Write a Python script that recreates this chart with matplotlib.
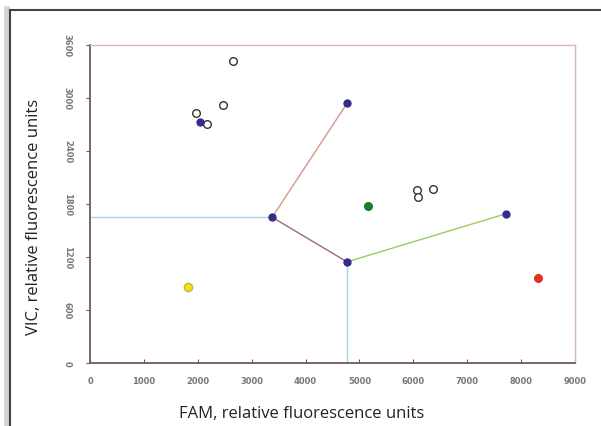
import matplotlib
matplotlib.use("Agg")
import matplotlib.pyplot as plt
from matplotlib.lines import Line2D

# unknown samples (open circles)
unk_x = [2650, 2470, 1970, 2170, 6070, 6080, 6360]
unk_y = [3420, 2920, 2830, 2700, 1960, 1880, 1970]

# cluster centres (blue)
cen_x = [2040, 3380, 4770, 4770, 7720]
cen_y = [2730, 1650, 2940, 1145, 1690]

# controls
green_pt = (5160, 1780)
red_pt = (8310, 965)
yellow_pt = (1820, 860)

# boundary segments: (x0, y0, x1, y1)
cyan_h = (0, 1650, 3380, 1650)
cyan_v = (4770, 1145, 4770, 0)
brown = (3380, 1650, 4770, 2940)
purple = (3380, 1650, 4770, 1145)
green_seg = (4770, 1145, 7720, 1690)

xticks = list(range(0, 9001, 1000))
yticks = list(range(0, 3601, 600))

fig = plt.figure(figsize=(6.01, 4.27), dpi=100)
ax = fig.add_axes([0.1498, 0.1475, 0.8069, 0.7448])

ax.plot(cyan_h[0::2], cyan_h[1::2], color="#a8d8e8", lw=1.0)
ax.plot(cyan_v[0::2], cyan_v[1::2], color="#a8d8e8", lw=1.0)
ax.plot(brown[0::2], brown[1::2], color="#d09a88", lw=1.0)
ax.plot(purple[0::2], purple[1::2], color="#9a6a84", lw=1.0)
ax.plot(green_seg[0::2], green_seg[1::2], color="#9ccc60", lw=1.0)

ax.plot(unk_x, unk_y, "o", ms=5.5, mfc="white", mec="#333333", mew=1.0)
ax.plot(cen_x, cen_y, "o", ms=5, color="#332c8c")
ax.plot(*green_pt, "o", ms=5.5, color="#1c7a2c")
ax.plot(*red_pt, "o", ms=5.5, color="#e03420")
ax.plot(*yellow_pt, "o", ms=6, mfc="#f0e020", mec="#c8b838", mew=1.0)

ax.set_xlim(0, 9000)
ax.set_ylim(0, 3600)
ax.set_xticks(xticks)
ax.set_yticks(yticks)
ax.set_xticklabels([str(t) for t in xticks], fontsize=6, color="#777777",
                   fontweight="bold")
ax.set_yticklabels([str(t) for t in yticks], fontsize=6, color="#777777",
                   fontweight="bold", rotation=-90, va="center")
ax.tick_params(axis="x", direction="in", length=3, color="#6e5a5a", pad=9)
ax.tick_params(axis="y", direction="out", length=3, color="#6e5a5a", pad=10)
for s in ["left", "bottom"]:
    ax.spines[s].set_color("#6e5a5a")
    ax.spines[s].set_linewidth(1.3)
for s in ["top", "right"]:
    ax.spines[s].set_color("#d4bcb4")
    ax.spines[s].set_linewidth(1.0)

fig.text(0.5025, 0.0315, "FAM, relative fluorescence units", fontsize=12,
         family="Open Sans", color="#222222", ha="center", va="center")
fig.text(0.057, 0.492, "VIC, relative fluorescence units", fontsize=12,
         family="Open Sans", color="#222222", ha="center", va="center",
         rotation=90)

# page frame: top and left rule with a faint shadow
fig.add_artist(Line2D([0.0115, 0.0115], [0, 0.976], color="#d4d4d4", lw=4,
                      transform=fig.transFigure))
fig.add_artist(Line2D([0.0165, 1.0], [0.975, 0.975], color="#444444", lw=1.5,
                      transform=fig.transFigure))
fig.add_artist(Line2D([0.0165, 0.0165], [0, 0.975], color="#444444", lw=1.5,
                      transform=fig.transFigure))

fig.savefig("out.png", dpi=100)
